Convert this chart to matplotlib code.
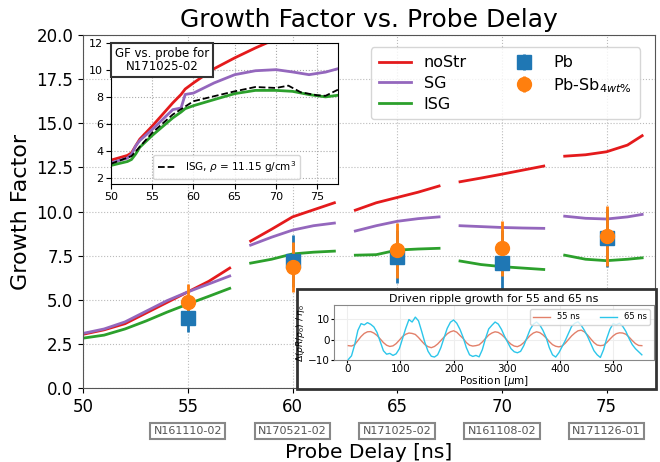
import numpy as np
import matplotlib.pyplot as plt
from matplotlib.patches import Rectangle

# main segments (probe delay, growth factor)
seg_x = [
    [50, 51, 52, 53, 54, 55, 56, 57],
    [58, 59, 60, 61, 62],
    [63, 64, 65, 66, 67],
    [68, 69, 70, 71, 72],
    [73, 74, 75, 76, 76.7],
]
seg_nostr = [
    [3.05, 3.3, 3.65, 4.25, 4.85, 5.45, 6.05, 6.8],
    [8.33, 9.0, 9.7, 10.1, 10.5],
    [10.08, 10.5, 10.8, 11.1, 11.45],
    [11.69, 11.9, 12.12, 12.35, 12.58],
    [13.14, 13.22, 13.39, 13.77, 14.3],
]
seg_sg = [
    [3.1, 3.35, 3.75, 4.35, 4.95, 5.45, 5.9, 6.35],
    [8.1, 8.55, 8.95, 9.2, 9.35],
    [8.9, 9.2, 9.45, 9.6, 9.7],
    [9.2, 9.15, 9.1, 9.07, 9.05],
    [9.74, 9.62, 9.58, 9.7, 9.84],
]
seg_isg = [
    [2.83, 3.0, 3.35, 3.8, 4.3, 4.76, 5.2, 5.65],
    [7.08, 7.3, 7.6, 7.7, 7.76],
    [7.53, 7.56, 7.82, 7.88, 7.92],
    [7.2, 7.0, 6.88, 6.8, 6.72],
    [7.53, 7.3, 7.22, 7.3, 7.38],
]

# measured points
shots = [55, 60, 65, 70, 75]
shot_names = ['N161110-02', 'N170521-02', 'N171025-02', 'N161108-02', 'N171126-01']
pb_gf = [3.95, 7.2, 7.43, 7.06, 8.52]
pb_err = [0.8, 1.45, 1.5, 1.9, 1.64]
pbsb_gf = [4.87, 6.85, 7.8, 7.91, 8.6]
pbsb_err = [1.05, 1.4, 1.55, 1.55, 1.7]

# inset: full evolution for N171025-02
ins_x = [50, 52, 52.5, 53, 53.5, 55, 57.5, 58.5, 59, 60, 62.5, 65, 67.5, 70, 72, 74, 76, 77.5]
ins_nostr = [3.35, 3.7, 3.89, 4.4, 4.9, 5.86, 7.58, 8.2, 8.6, 9.05, 10.1, 10.9, 11.63, 12.3, 12.8, 13.2, 13.6, 14.0]
ins_sg = [3.15, 3.5, 3.77, 4.4, 4.8, 5.61, 7.08, 7.2, 8.2, 8.3, 9.05, 9.66, 9.95, 10.03, 9.86, 9.66, 9.85, 10.1]
ins_isg = [2.96, 3.25, 3.4, 3.8, 4.3, 5.17, 6.47, 6.9, 7.15, 7.37, 7.82, 8.26, 8.5, 8.5, 8.43, 8.19, 8.02, 8.14]
ins_x_rho = [50, 52.5, 55, 57.5, 60, 62.5, 65, 67.5, 70, 71.5, 73, 75, 76, 77.5]
ins_rho = [3.08, 3.65, 5.37, 6.72, 7.7, 8.07, 8.43, 8.75, 8.68, 8.85, 8.36, 8.14, 8.1, 8.55]

# ripple lineouts
pos = np.arange(2, 555, 6)
rip55 = [-3.0, -3.2, -2.5, -0.5, 1.5, 3.0, 3.8, 3.9, 3.2, 2.0, 0.3, -1.5, -2.8, -3.4, -3.1, -2.0,
         -0.3, 1.5, 2.6, 3.2, 3.0, 2.5, 1.0, -0.8, -2.5, -3.5, -4.0, -3.4, -2.2, -0.5, 1.2, 2.8,
         3.8, 4.3, 3.6, 2.0, 0.5, -1.5, -2.8, -3.2, -3.0, -2.6, -1.2, 0.5, 2.2, 3.2, 3.8, 3.5,
         2.5, 1.0, -0.8, -2.3, -3.2, -3.5, -2.8, -1.5, 0.3, 2.0, 3.2, 3.8, 3.4, 2.3, 0.8, -1.0,
         -2.5, -3.3, -3.6, -3.2, -1.8, 0.0, 1.8, 3.2, 4.3, 4.6, 3.8, 2.2, 0.3, -1.5, -2.7, -3.0,
         -2.8, -1.5, 0.2, 1.8, 2.9, 3.3, 3.2, 2.6, 1.2, -0.5, -2.0, -2.9, -3.0]
rip65 = [-9.8, -8.0, -2.5, 4.5, 7.8, 7.2, 8.3, 7.5, 6.2, 3.5, -1.0, -5.5, -7.2, -6.8, -7.8, -7.0,
         -4.5, 0.5, 5.5, 9.8, 8.6, 11.0, 9.2, 4.0, -1.5, -5.8, -8.2, -8.6, -7.5, -4.0, 0.8, 5.5,
         8.5, 9.6, 8.0, 5.0, 1.0, -4.0, -7.5, -8.3, -7.8, -8.5, -5.0, 0.5, 5.2, 7.0, 8.6, 7.6,
         5.0, 1.5, -1.5, -4.5, -6.0, -6.5, -5.8, -3.0, 1.0, 5.0, 7.5, 8.6, 7.2, 4.5, 1.0, -4.0,
         -7.5, -8.6, -6.5, -3.5, -0.5, 3.0, 6.5, 8.0, 8.7, 7.0, 4.5, 1.5, -2.0, -5.5, -7.5, -8.8,
         -5.0, 0.5, 5.0, 7.8, 7.2, 8.0, 6.5, 4.0, 0.5, -2.5, -4.5, -6.0, -7.5]

red = '#e41a1c'
purple = '#9467bd'
green = '#2ca02c'

fig = plt.figure(figsize=(6.6, 4.62), dpi=100)
ax = fig.add_axes([0.126, 0.160, 0.866, 0.764])

for i in range(len(seg_x)):
    ax.plot(seg_x[i], seg_nostr[i], color=red, lw=2, label='noStr' if i == 0 else None)
    ax.plot(seg_x[i], seg_sg[i], color=purple, lw=2, label='SG' if i == 0 else None)
    ax.plot(seg_x[i], seg_isg[i], color=green, lw=2, label='ISG' if i == 0 else None)

ax.errorbar(shots, pb_gf, yerr=pb_err, fmt='s', color='#1f77b4', ms=10, elinewidth=2, label='Pb')
ax.errorbar(shots, pbsb_gf, yerr=pbsb_err, fmt='o', color='#ff7f0e', ms=10, elinewidth=2,
            label='Pb-Sb$_{4wt\\%}$')

ax.set_xlim(50, 77.3)
ax.set_ylim(0, 20)
ax.set_yticks(np.arange(0, 20.1, 2.5))
ax.grid(True, ls=':', color='#bbbbbb')
ax.tick_params(labelsize=12)
ax.set_title('Growth Factor vs. Probe Delay', fontsize=18)
ax.set_ylabel('Growth Factor', fontsize=16)
ax.set_xlabel('Probe Delay [ns]', fontsize=14.5)
ax.xaxis.set_label_coords(0.5, -0.155)
for s in ax.spines.values():
    s.set_color('#555555')

for x, name in zip(shots, shot_names):
    ax.annotate(name, xy=(x, 0), xycoords=('data', 'axes fraction'), xytext=(0, -31),
                textcoords='offset points', ha='center', va='center', fontsize=8, color='#555555',
                bbox=dict(boxstyle='square,pad=0.3', fc='white', ec='#888888', lw=1.5))

ax.legend(loc='upper right', ncol=2, fontsize=11.5, handlelength=2.0, borderpad=0.5,
          labelspacing=0.35, columnspacing=2.6, bbox_to_anchor=(0.988, 0.988))

# inset: growth factor vs probe for one shot
ai = fig.add_axes([0.168, 0.602, 0.344, 0.305])
ai.plot(ins_x, ins_nostr, color=red, lw=2)
ai.plot(ins_x, ins_sg, color=purple, lw=2)
ai.plot(ins_x, ins_isg, color=green, lw=2)
ai.plot(ins_x_rho, ins_rho, 'k--', lw=1.3, label='ISG, $\\rho$ = 11.15 g/cm$^3$')
ai.set_xlim(50, 77.5)
ai.set_ylim(1.6, 12)
ai.set_yticks([2, 4, 6, 8, 10, 12])
ai.grid(True, ls=':', color='#aaaaaa')
ai.tick_params(labelsize=8, pad=2)
ai.legend(loc='lower center', fontsize=7.5, handlelength=1.8, borderpad=0.4,
          bbox_to_anchor=(0.51, 0.0))
ai.text(0.225, 0.88, 'GF vs. probe for\nN171025-02', transform=ai.transAxes, ha='center',
        va='center', fontsize=8.5, linespacing=1.05,
        bbox=dict(boxstyle='square,pad=0.3', fc='white', ec='#333333', lw=1.5))

# ripple box
fig.patches.append(Rectangle((0.45, 0.158), 0.544, 0.216, transform=fig.transFigure,
                             fc='white', ec='#333333', lw=2, zorder=5))
ar = fig.add_axes([0.506, 0.221, 0.485, 0.119], zorder=6)
ar.plot(pos, rip55, color='#e2806a', lw=1, label='55 ns')
ar.plot(pos, rip65, color='#2cc6ea', lw=1, label='65 ns')
ar.set_xlim(-25, 577)
ar.set_ylim(-10, 17)
ar.set_yticks([-10, 0, 10])
ar.grid(True, color='#eeeeee')
ar.tick_params(labelsize=7.5, pad=1, length=2)
for s in ar.spines.values():
    s.set_color('#888888')
ar.set_title('Driven ripple growth for 55 and 65 ns', fontsize=8, pad=2)
ar.set_xlabel('Position [$\\mu$m]', fontsize=7.5, labelpad=0)
ar.set_ylabel('$\\Delta(\\rho R/\\rho_0)$ / $\\eta_0$', fontsize=6.5, labelpad=1)
ar.legend(loc='upper right', ncol=2, fontsize=6, handlelength=2, columnspacing=2.5)

fig.savefig('out.png', dpi=100)
